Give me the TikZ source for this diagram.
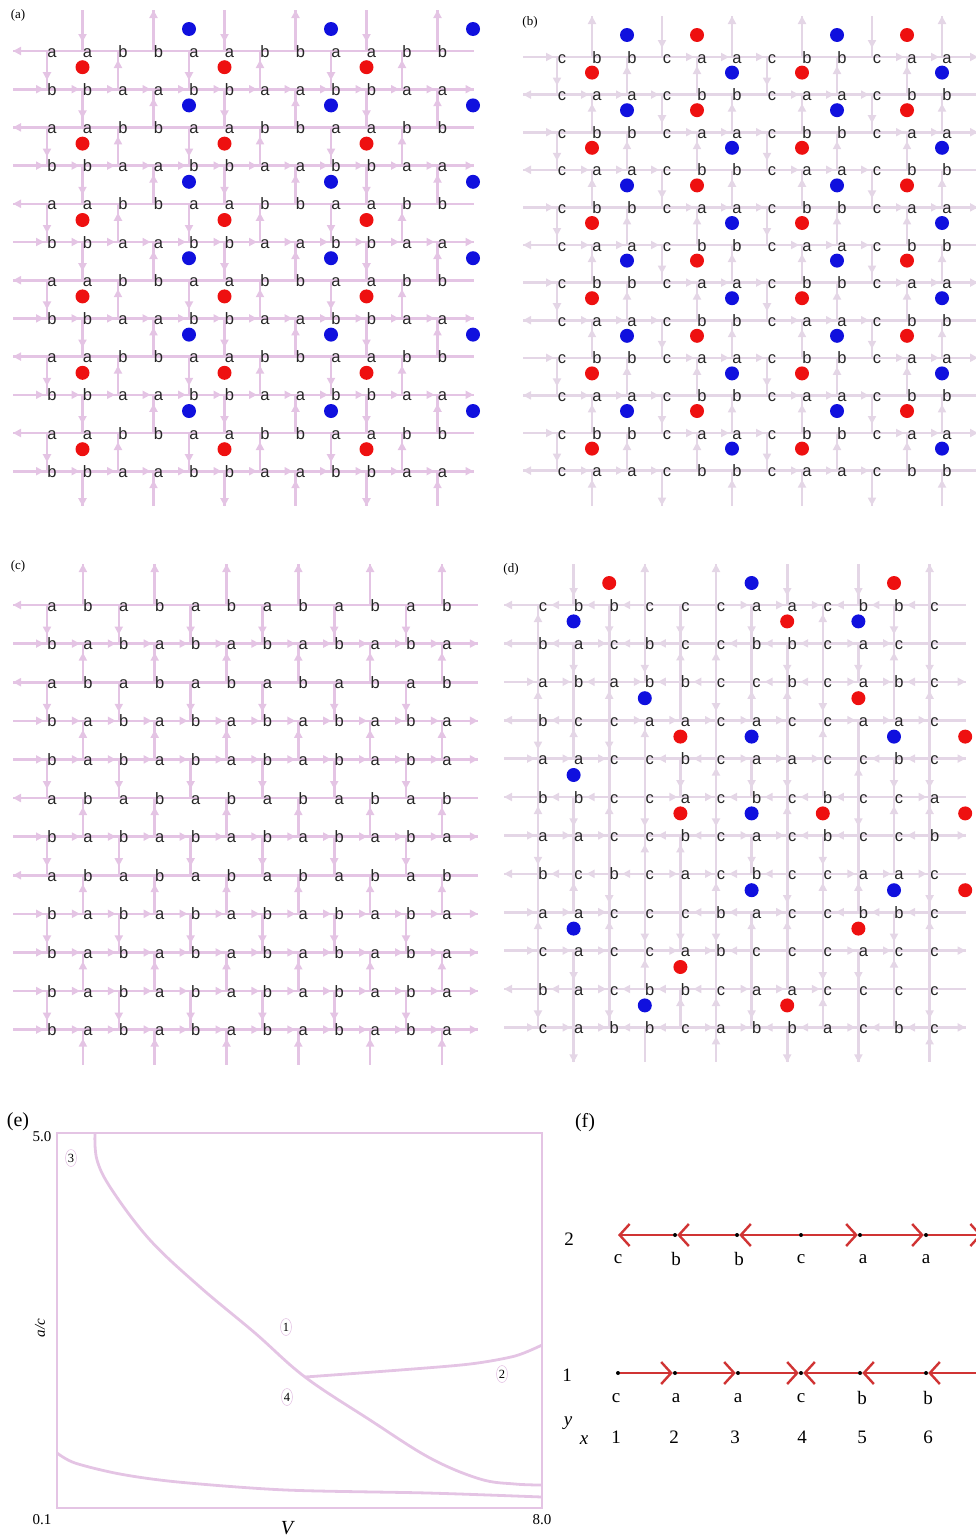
\documentclass[tikz,border=0pt]{standalone}
\usepackage{fontspec}
\setmainfont{Liberation Serif}
\newfontfamily\gridfont{Liberation Sans}
\usetikzlibrary{arrows.meta,positioning,shapes.geometric}

\definecolor{latpink}{RGB}{228,196,228}
\definecolor{latgrey}{RGB}{228,214,230}
\definecolor{dotred}{RGB}{238,16,16}
\definecolor{dotblue}{RGB}{16,16,222}
\definecolor{chainred}{RGB}{208,52,52}

\tikzset{
  latline/.style={draw=#1, line width=2.6pt},
  lathead/.style={latline=#1, -{Triangle[length=8pt,width=8pt]}},
  latletter/.style={font=\gridfont\fontsize{16.5}{16.5}\selectfont, text=black!85, inner sep=0pt, text height=12pt, text depth=0pt},
  reddot/.style={fill=dotred},
  bluedot/.style={fill=dotblue},
  tag/.style={font=\fontsize{13}{13}\selectfont, inner sep=0pt},
  bigtag/.style={font=\fontsize{20}{20}\selectfont, inner sep=0pt},
  axislabel/.style={font=\fontsize{15}{15}\selectfont, inner sep=0pt},
  boxline/.style={draw=latpink, line width=2.8pt},
  regionmark/.style={ellipse, draw=latpink, line width=0.6pt, inner sep=0.5pt, minimum width=11pt, minimum height=17pt, font=\fontsize{12.5}{12.5}\selectfont},
  site/.style={circle, fill=black, inner sep=0pt, minimum size=4pt},
  chainarrow/.style={draw=chainred, line width=2.6pt, -{Straight Barb[length=10pt,width=22pt,line width=2.4pt]}},
  chainletter/.style={font=\fontsize{19}{19}\selectfont, inner sep=0pt}
}

% #1 name, #2 line colour, #3 letters, #4 row arrows, #5 column arrows
\newcommand\latticepanel[5]{%
  \foreach \hrow [count=\rowno] in {#4} {
    \pgfmathsetmacro\yy{\gy+(\rowno-1)*\gdy}
    \draw[latline=#2] ({\gx-39},\yy) -- ({\gx+11*\gdx+31},\yy);
    \foreach \code [count=\segno from 0] in \hrow {
      \if\code r
        \ifnum\segno<12 \pgfmathsetmacro\tip{\gx+\segno*\gdx-8}\else\pgfmathsetmacro\tip{\gx+11*\gdx+31}\fi
        \draw[lathead=#2] ({\tip-6},\yy) -- (\tip,\yy);
      \fi
      \if\code l
        \ifnum\segno>0 \pgfmathsetmacro\tip{\gx+(\segno-1)*\gdx+8}\else\pgfmathsetmacro\tip{\gx-39}\fi
        \draw[lathead=#2] ({\tip+6},\yy) -- (\tip,\yy);
      \fi
    }
  }
  \foreach \vcol [count=\colno] in {#5} {
    \pgfmathsetmacro\xx{\gx+(\colno-1)*\gdx-5}
    \foreach \code [count=\segno from 0] in \vcol {
      \ifnum\segno=0 \pgfmathsetmacro\ya{\gy-41}\else\pgfmathsetmacro\ya{\gy+(\segno-1)*\gdy}\fi
      \ifnum\segno=12 \pgfmathsetmacro\yb{\gy+11*\gdy+35}\else\pgfmathsetmacro\yb{\gy+\segno*\gdy}\fi
      \if\code 0\else\draw[latline=#2] (\xx,\ya) -- (\xx,\yb);\fi
      \if\code d
        \ifnum\segno=12 \pgfmathsetmacro\tip{\yb}\else\pgfmathsetmacro\tip{\yb-9}\fi
        \draw[lathead=#2] (\xx,{\tip-6}) -- (\xx,\tip);
      \fi
      \if\code u
        \ifnum\segno=0 \pgfmathsetmacro\tip{\ya}\else\pgfmathsetmacro\tip{\ya+9}\fi
        \draw[lathead=#2] (\xx,{\tip+6}) -- (\xx,\tip);
      \fi
    }
  }
  \foreach \lrow [count=\rowno] in {#3} {
    \foreach \ch [count=\colno] in \lrow {
      \node[latletter] (#1-\rowno-\colno) at ({\gx+(\colno-1)*\gdx},{\gy+(\rowno-1)*\gdy}) {\ch};
    }
  }
}

\begin{document}
\begin{tikzpicture}[x=1pt,y=-1pt]
\useasboundingbox (0,0) rectangle (976,1539);

% (a)
\node[tag] (ta) at (18,15) {(a)};
\def\gx{52}\def\gy{51}\def\gdx{35.5}\def\gdy{38.2}
\latticepanel{a}{latpink}{
  {a,a,b,b,a,a,b,b,a,a,b,b},{b,b,a,a,b,b,a,a,b,b,a,a},
  {a,a,b,b,a,a,b,b,a,a,b,b},{b,b,a,a,b,b,a,a,b,b,a,a},
  {a,a,b,b,a,a,b,b,a,a,b,b},{b,b,a,a,b,b,a,a,b,b,a,a},
  {a,a,b,b,a,a,b,b,a,a,b,b},{b,b,a,a,b,b,a,a,b,b,a,a},
  {a,a,b,b,a,a,b,b,a,a,b,b},{b,b,a,a,b,b,a,a,b,b,a,a},
  {a,a,b,b,a,a,b,b,a,a,b,b},{b,b,a,a,b,b,a,a,b,b,a,a}}{
  {l,n,n,n,n,n,n,n,n,n,n,n,n},{r,r,r,r,r,r,r,r,r,r,r,r,r},
  {l,n,n,n,n,n,n,n,n,n,n,n,n},{r,r,r,r,r,r,r,r,r,r,r,r,r},
  {l,n,n,n,n,n,n,n,n,n,n,n,n},{r,r,r,r,r,r,r,r,r,r,r,r,r},
  {l,n,n,n,n,n,n,n,n,n,n,n,n},{r,r,r,r,r,r,r,r,r,r,r,r,r},
  {l,n,n,n,n,n,n,n,n,n,n,n,n},{r,r,r,r,r,r,r,r,r,r,r,r,r},
  {l,n,n,n,n,n,n,n,n,n,n,n,n},{r,r,r,r,r,r,r,r,r,r,r,r,r}}{
  {0,d,0,d,0,d,0,d,0,d,0,d,0},{d,0,d,0,d,0,d,0,d,0,d,0,d},
  {0,u,0,u,0,u,0,u,0,u,0,u,0},{u,0,u,0,u,0,u,0,u,0,u,0,u},
  {0,d,0,d,0,d,0,d,0,d,0,d,0},{d,0,d,0,d,0,d,0,d,0,d,0,d},
  {0,u,0,u,0,u,0,u,0,u,0,u,0},{u,0,u,0,u,0,u,0,u,0,u,0,u},
  {0,d,0,d,0,d,0,d,0,d,0,d,0},{d,0,d,0,d,0,d,0,d,0,d,0,d},
  {0,u,0,u,0,u,0,u,0,u,0,u,0},{u,0,u,0,u,0,u,0,u,0,u,0,u}}
\foreach \col in {5,9,13} \foreach \gap in {0,2,...,10}
  \fill[bluedot] ({\gx+(\col-1)*\gdx-5},{\gy-22+\gap*\gdy}) circle (7pt);
\foreach \col in {2,6,10} \foreach \gap in {1,3,...,11}
  \fill[reddot] ({\gx+(\col-1)*\gdx-5},{\gy-22+\gap*\gdy}) circle (7pt);

% (b)
\node[tag] (tb) at (530,22) {(b)};
\def\gx{562}\def\gy{57}\def\gdx{35}\def\gdy{37.6}
\latticepanel{b}{latgrey}{
  {c,b,b,c,a,a,c,b,b,c,a,a},{c,a,a,c,b,b,c,a,a,c,b,b},
  {c,b,b,c,a,a,c,b,b,c,a,a},{c,a,a,c,b,b,c,a,a,c,b,b},
  {c,b,b,c,a,a,c,b,b,c,a,a},{c,a,a,c,b,b,c,a,a,c,b,b},
  {c,b,b,c,a,a,c,b,b,c,a,a},{c,a,a,c,b,b,c,a,a,c,b,b},
  {c,b,b,c,a,a,c,b,b,c,a,a},{c,a,a,c,b,b,c,a,a,c,b,b},
  {c,b,b,c,a,a,c,b,b,c,a,a},{c,a,a,c,b,b,c,a,a,c,b,b}}{
  {r,n,n,n,r,r,r,n,n,n,r,r,r},{l,r,r,r,n,n,n,r,r,r,n,n,n},
  {r,n,n,n,r,r,r,n,n,n,r,r,r},{l,r,r,r,n,n,n,r,r,r,n,n,n},
  {r,n,n,n,r,r,r,n,n,n,r,r,r},{l,r,r,r,n,n,n,r,r,r,n,n,n},
  {r,n,n,n,r,r,r,n,n,n,r,r,r},{l,r,r,r,n,n,n,r,r,r,n,n,n},
  {r,n,n,n,r,r,r,n,n,n,r,r,r},{l,r,r,r,n,n,n,r,r,r,n,n,n},
  {r,n,n,n,r,r,r,n,n,n,r,r,r},{l,r,r,r,n,n,n,r,r,r,n,n,n}}{
  {0,d,0,d,0,d,0,d,0,d,0,d,0},{u,0,u,0,u,0,u,0,u,0,u,0,u},
  {0,u,0,u,0,u,0,u,0,u,0,u,0},{d,0,d,0,d,0,d,0,d,0,d,0,d},
  {0,u,0,u,0,u,0,u,0,u,0,u,0},{u,0,u,0,u,0,u,0,u,0,u,0,u},
  {0,d,0,d,0,d,0,d,0,d,0,d,0},{u,0,u,0,u,0,u,0,u,0,u,0,u},
  {0,u,0,u,0,u,0,u,0,u,0,u,0},{d,0,d,0,d,0,d,0,d,0,d,0,d},
  {0,u,0,u,0,u,0,u,0,u,0,u,0},{u,0,u,0,u,0,u,0,u,0,u,0,u}}
\foreach \col in {2,8} \foreach \gap in {1,3,...,11}
  \fill[reddot] ({\gx+(\col-1)*\gdx-5},{\gy-22+\gap*\gdy}) circle (7pt);
\foreach \col in {5,11} \foreach \gap in {0,2,...,10}
  \fill[reddot] ({\gx+(\col-1)*\gdx-5},{\gy-22+\gap*\gdy}) circle (7pt);
\foreach \col in {3,9} \foreach \gap in {0,2,...,10}
  \fill[bluedot] ({\gx+(\col-1)*\gdx-5},{\gy-22+\gap*\gdy}) circle (7pt);
\foreach \col in {6,12} \foreach \gap in {1,3,...,11}
  \fill[bluedot] ({\gx+(\col-1)*\gdx-5},{\gy-22+\gap*\gdy}) circle (7pt);

% (c)
\node[tag] (tc) at (18,566) {(c)};
\def\gx{52}\def\gy{605}\def\gdx{35.9}\def\gdy{38.6}
\latticepanel{c}{latpink}{
  {a,b,a,b,a,b,a,b,a,b,a,b},{b,a,b,a,b,a,b,a,b,a,b,a},
  {a,b,a,b,a,b,a,b,a,b,a,b},{b,a,b,a,b,a,b,a,b,a,b,a},
  {b,a,b,a,b,a,b,a,b,a,b,a},{a,b,a,b,a,b,a,b,a,b,a,b},
  {b,a,b,a,b,a,b,a,b,a,b,a},{a,b,a,b,a,b,a,b,a,b,a,b},
  {b,a,b,a,b,a,b,a,b,a,b,a},{b,a,b,a,b,a,b,a,b,a,b,a},
  {b,a,b,a,b,a,b,a,b,a,b,a},{b,a,b,a,b,a,b,a,b,a,b,a}}{
  {l,n,n,n,n,n,n,n,n,n,n,n,n},{r,r,r,r,r,r,r,r,r,r,r,r,r},
  {l,n,n,n,n,n,n,n,n,n,n,n,n},{r,r,r,r,r,r,r,r,r,r,r,r,r},
  {r,r,r,r,r,r,r,r,r,r,r,r,r},{l,n,n,n,n,n,n,n,n,n,n,n,n},
  {r,r,r,r,r,r,r,r,r,r,r,r,r},{l,n,n,n,n,n,n,n,n,n,n,n,n},
  {r,r,r,r,r,r,r,r,r,r,r,r,r},{r,r,r,r,r,r,r,r,r,r,r,r,r},
  {r,r,r,r,r,r,r,r,r,r,r,r,r},{r,r,r,r,r,r,r,r,r,r,r,r,r}}{
  {0,d,0,d,0,d,0,d,0,d,0,d,0},{u,0,u,0,u,0,u,0,u,0,u,0,u},
  {0,d,0,d,0,d,0,d,0,d,0,d,0},{u,0,u,0,u,0,u,0,u,0,u,0,u},
  {0,d,0,d,0,d,0,d,0,d,0,d,0},{u,0,u,0,u,0,u,0,u,0,u,0,u},
  {0,d,0,d,0,d,0,d,0,d,0,d,0},{u,0,u,0,u,0,u,0,u,0,u,0,u},
  {0,d,0,d,0,d,0,d,0,d,0,d,0},{u,0,u,0,u,0,u,0,u,0,u,0,u},
  {0,d,0,d,0,d,0,d,0,d,0,d,0},{u,0,u,0,u,0,u,0,u,0,u,0,u}}

% (d)
\node[tag] (td) at (511,569) {(d)};
\def\gx{543}\def\gy{605}\def\gdx{35.6}\def\gdy{38.4}
\latticepanel{d}{latgrey}{
  {c,b,b,c,c,c,a,a,c,b,b,c},{b,a,c,b,c,c,b,b,c,a,c,c},
  {a,b,a,b,b,c,c,b,c,a,b,c},{b,c,c,a,a,c,a,c,c,a,a,c},
  {a,a,c,c,b,c,a,a,c,c,b,c},{b,b,c,c,a,c,b,c,b,c,c,a},
  {a,a,c,c,b,c,a,c,b,c,c,b},{b,c,b,c,a,c,b,c,c,a,a,c},
  {a,a,c,c,c,b,a,c,c,b,b,c},{c,a,c,c,a,b,c,c,c,a,c,c},
  {b,a,c,b,b,c,a,a,c,c,c,c},{c,a,b,b,c,a,b,b,a,c,b,c}}{
  {l,l,l,l,n,n,r,r,r,l,l,l,n},{l,l,r,l,l,n,l,l,l,r,r,n,n},
  {r,r,l,r,l,l,n,l,l,r,r,l,r},{l,l,n,r,r,r,r,r,n,r,r,r,n},
  {r,r,r,n,l,l,r,r,r,n,l,l,r},{l,l,l,n,r,r,l,l,l,l,n,r,n},
  {r,r,r,n,l,l,r,r,l,l,n,l,r},{l,l,l,l,r,r,l,l,n,r,r,r,n},
  {r,r,r,n,n,l,l,r,n,l,l,l,n},{r,r,r,n,r,r,l,n,n,r,r,n,r},
  {l,l,r,l,l,l,r,r,r,n,n,n,n},{r,r,r,l,l,r,r,l,l,r,l,l,r}}{
  {0,u,n,u,d,n,u,d,n,u,n,d,0},{d,0,d,n,u,0,d,n,u,0,d,n,d},
  {0,d,n,u,d,n,u,n,d,u,n,d,0},{u,n,d,0,u,n,d,u,n,d,u,0,n},
  {0,d,u,n,0,d,0,u,n,d,0,u,0},{u,n,u,d,n,u,d,n,u,d,n,u,u},
  {0,d,n,u,0,d,0,d,0,u,n,d,0},{d,0,d,u,n,d,u,n,d,u,n,0,d},
  {0,u,n,d,u,n,0,d,u,n,d,u,0},{d,0,d,0,n,u,d,n,u,0,d,n,d},
  {0,d,u,n,0,d,u,n,0,d,u,n,0},{u,n,d,u,n,d,u,n,d,u,n,d,u}}
\foreach \col/\gap in {3/0,11/0,8/1,10/3,5/4,13/4,5/6,9/6,13/6,13/8,10/9,5/10,8/11}
  \fill[reddot] ({\gx+(\col-1)*\gdx-5},{\gy-22+\gap*\gdy}) circle (7pt);
\foreach \col/\gap in {7/0,2/1,10/1,4/3,7/4,11/4,2/5,7/6,7/8,11/8,2/9,4/11}
  \fill[bluedot] ({\gx+(\col-1)*\gdx-5},{\gy-22+\gap*\gdy}) circle (7pt);

% (e) phase diagram
\node[bigtag] (te) at (18,1122) {(e)};
\node[axislabel] (ytop) at (42,1137) {5.0};
\node[axislabel] (ybot) at (42,1520) {0.1};
\node[axislabel] (xright) at (542,1520) {8.0};
\node[font=\fontsize{20}{20}\selectfont, inner sep=0pt] (xlab) at (288,1528) {\textit{V}};
\node[font=\fontsize{15}{15}\selectfont, inner sep=0pt, rotate=90] (ylab) at (40,1328) {\textit{a/c}};
\draw[boxline] (57,1133) rectangle (542,1508);
\draw[boxline] plot[smooth, tension=0.6] coordinates {(95,1133) (97,1160) (112,1190) (150,1240) (200,1287) (255,1333) (305,1377) (370,1420) (430,1458) (480,1479) (515,1484) (542,1485)};
\draw[boxline] plot[smooth] coordinates {(305,1377) (400,1370) (470,1364) (515,1356) (542,1345)};
\draw[boxline] plot[smooth] coordinates {(57,1453) (75,1463) (120,1474) (178,1482) (286,1490) (428,1493) (542,1497)};
\node[regionmark] (reg3) at (71,1158) {3};
\node[regionmark] (reg1) at (286,1327) {1};
\node[regionmark] (reg2) at (502,1374) {2};
\node[regionmark] (reg4) at (287,1397) {4};

% (f) chains
\node[bigtag] (tf) at (585,1123) {(f)};
\node[chainletter] (ylab2) at (569,1239) {2};
\node[chainletter] (ylab1) at (567,1375) {1};
\coordinate (p2-1) at (618,1235);
\foreach \xpos [count=\k from 2] in {675,737,801,860,926}
  \node[site] (p2-\k) at (\xpos,1235) {};
\coordinate (p2-7) at (982,1235);
\foreach \xpos [count=\k] in {618,675,738,801,860,926}
  \node[site] (p1-\k) at (\xpos,1373) {};
\coordinate (p1-7) at (982,1373);

\draw[chainarrow] (p2-2) -- (p2-1);
\draw[chainarrow] (p2-3) -- (p2-2);
\draw[chainarrow] (p2-4) -- (p2-3);
\draw[chainarrow] (p2-4) -- (p2-5);
\draw[chainarrow] (p2-5) -- (p2-6);
\draw[chainarrow] (p2-6) -- (p2-7);

\draw[chainarrow] (p1-1) -- (p1-2);
\draw[chainarrow] (p1-2) -- (p1-3);
\draw[chainarrow] (p1-3) -- (p1-4);
\draw[chainarrow] (p1-5) -- (p1-4);
\draw[chainarrow] (p1-6) -- (p1-5);
\draw[chainarrow] (p1-7) -- (p1-6);

\foreach \ch/\xpos [count=\k] in {c/618,b/676,b/739,c/801,a/863,a/926}
  \node[chainletter] (s2-\k) at (\xpos,1259) {\ch};
\foreach \ch/\xpos [count=\k] in {c/616,a/676,a/738,c/801,b/862,b/928}
  \node[chainletter] (s1-\k) at (\xpos,1398) {\ch};
\foreach \xpos [count=\k] in {616,674,735,802,862,928}
  \node[chainletter] (n-\k) at (\xpos,1437) {\k};
\node[chainletter] (ylabel) at (568,1423) {\textit{y}};
\node[chainletter] (xlabel) at (584,1440) {\textit{x}};
\end{tikzpicture}
\end{document}
